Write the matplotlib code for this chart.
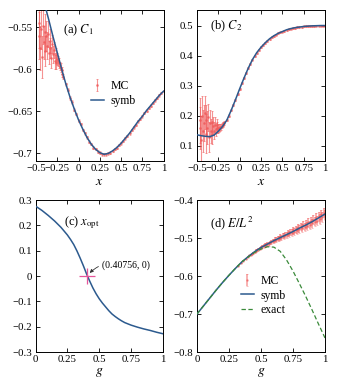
import matplotlib
matplotlib.use("Agg")
import matplotlib.pyplot as plt

plt.rcParams['font.family'] = ['Liberation Serif', 'DejaVu Serif']
plt.rcParams['mathtext.fontset'] = 'stix'
plt.rcParams['axes.unicode_minus'] = True

# ---------------- data ----------------
# (a)/(b) symbolic curves
x_sym = [-0.50, -0.45, -0.40, -0.35, -0.30, -0.25, -0.20, -0.15, -0.10, -0.05, 0.00,
         0.05, 0.10, 0.15, 0.20, 0.25, 0.30, 0.35, 0.40, 0.45, 0.50, 0.55, 0.60,
         0.65, 0.70, 0.75, 0.80, 0.85, 0.90, 0.95, 1.00]
c1_sym = [-0.482, -0.502, -0.522, -0.541, -0.561, -0.580, -0.599, -0.617, -0.633, -0.647, -0.660,
          -0.671, -0.681, -0.689, -0.695, -0.699, -0.701, -0.700, -0.697, -0.693, -0.688, -0.682, -0.676,
          -0.669, -0.662, -0.656, -0.649, -0.643, -0.637, -0.631, -0.626]
c2_sym = [0.137, 0.134, 0.132, 0.131, 0.136, 0.149, 0.165, 0.186, 0.218, 0.253, 0.290,
          0.325, 0.358, 0.387, 0.410, 0.428, 0.443, 0.456, 0.466, 0.474, 0.480, 0.486, 0.490,
          0.493, 0.495, 0.497, 0.498, 0.499, 0.4995, 0.500, 0.500]

# MC, noisy part (x < -0.17)
x_mc_noisy = [-0.47, -0.46, -0.45, -0.44, -0.43, -0.42, -0.41, -0.40, -0.39, -0.38,
              -0.37, -0.36, -0.35, -0.34, -0.33, -0.32, -0.31, -0.30, -0.29, -0.28,
              -0.27, -0.26, -0.25, -0.24, -0.23, -0.22, -0.21, -0.20, -0.19, -0.18]
c1_mc_noisy = [-0.560, -0.545, -0.575, -0.552, -0.585, -0.548, -0.568, -0.556, -0.578, -0.560,
               -0.572, -0.558, -0.580, -0.566, -0.575, -0.586, -0.570, -0.582, -0.577, -0.590,
               -0.583, -0.592, -0.588, -0.590, -0.592, -0.596, -0.598, -0.601, -0.605, -0.609]
c1_err_noisy = [0.028, 0.030, 0.026, 0.024, 0.025, 0.022, 0.020, 0.022, 0.018, 0.018,
                0.016, 0.015, 0.014, 0.014, 0.012, 0.012, 0.011, 0.010, 0.009, 0.009,
                0.008, 0.007, 0.007, 0.006, 0.006, 0.005, 0.005, 0.004, 0.004, 0.003]
c2_mc_noisy = [0.160, 0.185, 0.120, 0.200, 0.150, 0.175, 0.210, 0.140, 0.185, 0.160,
               0.195, 0.130, 0.175, 0.150, 0.180, 0.140, 0.165, 0.150, 0.170, 0.155,
               0.168, 0.160, 0.158, 0.160, 0.162, 0.164, 0.167, 0.170, 0.172, 0.176]
c2_err_noisy = [0.070, 0.075, 0.080, 0.065, 0.070, 0.060, 0.055, 0.065, 0.050, 0.055,
                0.045, 0.050, 0.045, 0.040, 0.035, 0.035, 0.030, 0.028, 0.025, 0.022,
                0.020, 0.018, 0.016, 0.014, 0.012, 0.010, 0.009, 0.008, 0.007, 0.006]

# MC, clean part
x_mc_clean = [-0.150, -0.125, -0.100, -0.075, -0.050, -0.025, 0.000, 0.025, 0.050, 0.075,
              0.100, 0.125, 0.150, 0.175, 0.200, 0.225, 0.250, 0.275, 0.300, 0.325,
              0.350, 0.375, 0.400, 0.425, 0.450, 0.475, 0.500, 0.525, 0.550, 0.575,
              0.600, 0.625, 0.650, 0.675, 0.700, 0.725, 0.750, 0.775, 0.800, 0.825,
              0.850, 0.875, 0.900, 0.925, 0.950, 0.975, 1.000]
c1_mc_clean = [-0.618, -0.624, -0.634, -0.639, -0.648, -0.653, -0.661, -0.665, -0.672, -0.676,
               -0.681, -0.686, -0.689, -0.693, -0.695, -0.698, -0.699, -0.701, -0.701, -0.701,
               -0.700, -0.699, -0.697, -0.695, -0.693, -0.690, -0.688, -0.685, -0.682, -0.679,
               -0.676, -0.672, -0.669, -0.666, -0.662, -0.659, -0.656, -0.652, -0.649, -0.646,
               -0.643, -0.640, -0.637, -0.634, -0.631, -0.628, -0.626]
c2_mc_clean = [0.187, 0.201, 0.218, 0.235, 0.253, 0.272, 0.290, 0.308, 0.325, 0.342,
               0.358, 0.373, 0.387, 0.399, 0.410, 0.420, 0.428, 0.436, 0.443, 0.450,
               0.456, 0.461, 0.466, 0.470, 0.474, 0.477, 0.480, 0.483, 0.486, 0.488,
               0.490, 0.492, 0.493, 0.494, 0.495, 0.496, 0.497, 0.498, 0.498, 0.499,
               0.499, 0.499, 0.500, 0.500, 0.500, 0.500, 0.500]
c1_err_clean = [0.002, 0.002, 0.002, 0.002, 0.0015, 0.0015, 0.0015, 0.0015, 0.0015, 0.0015,
                0.0015, 0.0015, 0.0015, 0.0015, 0.0015, 0.0015, 0.0015, 0.0015, 0.0015, 0.0015,
                0.0015, 0.0015, 0.0015, 0.0015, 0.0015, 0.0015, 0.0015, 0.0015, 0.0015, 0.0015,
                0.0015, 0.0015, 0.0015, 0.0015, 0.0015, 0.0015, 0.0015, 0.0015, 0.0015, 0.0015,
                0.0015, 0.0015, 0.0015, 0.0015, 0.0015, 0.0015, 0.0015]
c2_err_clean = [0.004, 0.004, 0.003, 0.003, 0.003, 0.003, 0.003, 0.003, 0.003, 0.003,
                0.003, 0.003, 0.003, 0.003, 0.003, 0.003, 0.003, 0.003, 0.003, 0.003,
                0.003, 0.003, 0.003, 0.003, 0.003, 0.003, 0.003, 0.003, 0.003, 0.003,
                0.003, 0.003, 0.003, 0.003, 0.003, 0.003, 0.003, 0.003, 0.003, 0.003,
                0.003, 0.003, 0.003, 0.003, 0.003, 0.003, 0.003]

# (c) x_opt(g)
g_opt = [0.00, 0.05, 0.10, 0.15, 0.20, 0.25, 0.275, 0.30, 0.325, 0.35, 0.375, 0.40,
         0.425, 0.45, 0.475, 0.50, 0.525, 0.55, 0.575, 0.60, 0.625, 0.65, 0.675, 0.70,
         0.75, 0.80, 0.85, 0.90, 0.95, 1.00]
x_opt = [0.276, 0.259, 0.239, 0.217, 0.192, 0.162, 0.144, 0.124, 0.099, 0.071, 0.041, 0.009,
         -0.020, -0.047, -0.070, -0.090, -0.107, -0.122, -0.137, -0.150, -0.160, -0.169, -0.177, -0.184,
         -0.194, -0.202, -0.209, -0.215, -0.222, -0.228]
g_star = 0.40756
x_star = 0.0

# (d) E/L^2
g_e = [0.00, 0.05, 0.10, 0.15, 0.20, 0.25, 0.30, 0.35, 0.40, 0.45, 0.50,
       0.55, 0.60, 0.65, 0.70, 0.75, 0.80, 0.85, 0.90, 0.95, 1.00]
e_sym = [-0.700, -0.679, -0.658, -0.637, -0.617, -0.598, -0.580, -0.563, -0.549, -0.536, -0.525,
         -0.516, -0.507, -0.499, -0.491, -0.483, -0.474, -0.466, -0.457, -0.447, -0.437]
e_exact = [-0.700, -0.679, -0.658, -0.637, -0.617, -0.598, -0.580, -0.563, -0.550, -0.538, -0.529,
           -0.523, -0.524, -0.535, -0.558, -0.587, -0.620, -0.654, -0.690, -0.727, -0.763]
g_mc = [0.32, 0.34, 0.36, 0.38, 0.40,
        0.41, 0.42, 0.43, 0.44, 0.45, 0.46, 0.47, 0.48, 0.49, 0.50,
        0.51, 0.52, 0.53, 0.54, 0.55, 0.56, 0.57, 0.58, 0.59, 0.60,
        0.61, 0.62, 0.63, 0.64, 0.65, 0.66, 0.67, 0.68, 0.69, 0.70,
        0.71, 0.72, 0.73, 0.74, 0.75, 0.76, 0.77, 0.78, 0.79, 0.80,
        0.81, 0.82, 0.83, 0.84, 0.85, 0.86, 0.87, 0.88, 0.89, 0.90,
        0.91, 0.92, 0.93, 0.94, 0.95, 0.96, 0.97, 0.98, 0.99, 1.00]
e_mc = [-0.573, -0.566, -0.560, -0.554, -0.549,
        -0.546, -0.544, -0.541, -0.539, -0.536, -0.533, -0.532, -0.529, -0.527, -0.526,
        -0.522, -0.521, -0.519, -0.519, -0.515, -0.515, -0.512, -0.511, -0.508, -0.508,
        -0.504, -0.504, -0.501, -0.502, -0.497, -0.499, -0.494, -0.495, -0.491, -0.492,
        -0.487, -0.489, -0.484, -0.486, -0.480, -0.483, -0.477, -0.480, -0.473, -0.477,
        -0.470, -0.474, -0.466, -0.471, -0.463, -0.468, -0.459, -0.465, -0.455, -0.461,
        -0.452, -0.457, -0.447, -0.454, -0.443, -0.449, -0.438, -0.445, -0.433, -0.440]
e_mc_err = [0.001, 0.001, 0.001, 0.001, 0.002,
            0.002, 0.002, 0.002, 0.003, 0.003, 0.003, 0.003, 0.004, 0.004, 0.004,
            0.004, 0.004, 0.005, 0.005, 0.005, 0.005, 0.005, 0.006, 0.006, 0.006,
            0.006, 0.006, 0.007, 0.007, 0.007, 0.007, 0.007, 0.008, 0.008, 0.008,
            0.008, 0.008, 0.009, 0.009, 0.009, 0.009, 0.009, 0.010, 0.010, 0.010,
            0.010, 0.010, 0.010, 0.011, 0.011, 0.011, 0.011, 0.011, 0.011, 0.012,
            0.012, 0.012, 0.012, 0.012, 0.012, 0.013, 0.013, 0.013, 0.013, 0.013]

# ticks
xt_top = [-0.5, -0.25, 0, 0.25, 0.5, 0.75, 1]
xt_top_lbl = ['\u22120.5', '\u22120.25', '0', '0.25', '0.5', '0.75', '1']
xt_bot = [0, 0.25, 0.5, 0.75, 1]
xt_bot_lbl = ['0', '0.25', '0.5', '0.75', '1']
yt_a = [-0.55, -0.6, -0.65, -0.7]
yt_a_lbl = ['\u22120.55', '\u22120.6', '\u22120.65', '\u22120.7']
yt_b = [0.1, 0.2, 0.3, 0.4, 0.5]
yt_b_lbl = ['0.1', '0.2', '0.3', '0.4', '0.5']
yt_c = [-0.3, -0.2, -0.1, 0, 0.1, 0.2, 0.3]
yt_c_lbl = ['\u22120.3', '\u22120.2', '\u22120.1', '0', '0.1', '0.2', '0.3']
yt_d = [-0.8, -0.7, -0.6, -0.5, -0.4]
yt_d_lbl = ['\u22120.8', '\u22120.7', '\u22120.6', '\u22120.5', '\u22120.4']

# ---------------- style ----------------
BLUE = '#2c5a8e'
RED = '#f05a5a'
GREEN = '#3a8a3a'
PINK = '#e6559a'
TICK_FS = 7.8
LAB_FS = 10
TIT_FS = 9
LEG_FS = 8.5

W, H = 338, 388
fig = plt.figure(figsize=(W / 100, H / 100), dpi=100)


def ax_at(l, r, t, b):
    return fig.add_axes([l / W, (H - b) / H, (r - l) / W, (b - t) / H])


axa = ax_at(36, 163.5, 10.5, 161)
axb = ax_at(197, 325, 10.5, 161)
axc = ax_at(35.5, 163, 200, 352)
axd = ax_at(197, 325, 200, 352)

for ax in (axa, axb, axc, axd):
    ax.tick_params(direction='in', top=True, right=True, length=3, width=0.6,
                   labelsize=TICK_FS, pad=2.5)
    for s in ax.spines.values():
        s.set_linewidth(0.7)

eb_kw = dict(fmt='o', ms=1.0, color=RED, ecolor=RED, elinewidth=0.8,
             capsize=0.8, capthick=0.6, alpha=0.65, zorder=2)
eb_clean = dict(fmt='o', ms=1.2, color=RED, ecolor=RED, elinewidth=0.8,
                capsize=0.6, capthick=0.5, alpha=0.5, zorder=2)
eb_band = dict(fmt='o', ms=0.8, color=RED, ecolor=RED, elinewidth=1.2,
               capsize=0.6, capthick=0.5, alpha=0.55, zorder=2)


def legend(ax, order, anchor, spacing):
    h, l = ax.get_legend_handles_labels()
    d = dict(zip(l, h))
    ax.legend([d[k] for k in order], order, loc='upper left', bbox_to_anchor=anchor,
              frameon=False, fontsize=LEG_FS, handlelength=1.1, handletextpad=0.6,
              labelspacing=spacing, borderpad=0, borderaxespad=0)


# (a)
axa.errorbar(x_mc_noisy, c1_mc_noisy, yerr=c1_err_noisy, **eb_kw, label='MC')
axa.errorbar(x_mc_clean, c1_mc_clean, yerr=c1_err_clean, **eb_clean)
axa.plot(x_sym, c1_sym, color=BLUE, lw=1.1, zorder=3, label='symb')
axa.set_xlim(-0.5, 1)
axa.set_ylim(-0.709, -0.53)
axa.set_xticks(xt_top, xt_top_lbl)
axa.set_yticks(yt_a, yt_a_lbl)
axa.set_xlabel('$x$', fontsize=LAB_FS, labelpad=1)
axa.text(0.21, 0.87, '(a) $C_1$', transform=axa.transAxes, fontsize=TIT_FS,
         ha='left', va='center')
legend(axa, ['MC', 'symb'], (0.43, 0.54), 0.25)

# (b)
axb.errorbar(x_mc_noisy, c2_mc_noisy, yerr=c2_err_noisy, **eb_kw)
axb.errorbar(x_mc_clean, c2_mc_clean, yerr=c2_err_clean, **eb_clean)
axb.plot(x_sym, c2_sym, color=BLUE, lw=1.1, zorder=3)
axb.set_xlim(-0.5, 1)
axb.set_ylim(0.05, 0.55)
axb.set_xticks(xt_top, xt_top_lbl)
axb.set_yticks(yt_b, yt_b_lbl)
axb.set_xlabel('$x$', fontsize=LAB_FS, labelpad=1)
axb.text(0.10, 0.895, '(b) $C_2$', transform=axb.transAxes, fontsize=TIT_FS,
         ha='left', va='center')

# (c)
axc.plot(g_opt, x_opt, color=BLUE, lw=1.1, zorder=3)
axc.plot([g_star], [x_star], marker='+', ms=12, mew=0.9, color=PINK, zorder=4)
axc.annotate('(0.40756, 0)', xy=(0.425, 0.012), xytext=(0.525, 0.044),
             fontsize=7, ha='left', va='center',
             arrowprops=dict(arrowstyle='-|>', color='#333333', lw=0.6,
                             mutation_scale=5, shrinkA=1, shrinkB=0,
                             connectionstyle='arc3,rad=0.3'))
axc.set_xlim(0, 1)
axc.set_ylim(-0.3, 0.3)
axc.set_xticks(xt_bot, xt_bot_lbl)
axc.set_yticks(yt_c, yt_c_lbl)
axc.set_xlabel('$g$', fontsize=LAB_FS, labelpad=1)
axc.text(0.22, 0.85, '(c) $x_{\\mathrm{opt}}$', transform=axc.transAxes, fontsize=TIT_FS,
         ha='left', va='center')

# (d)
axd.errorbar(g_mc, e_mc, yerr=e_mc_err, **eb_band, label='MC')
axd.plot(g_e, e_sym, color=BLUE, lw=1.1, zorder=3, label='symb')
axd.plot(g_e, e_exact, color=GREEN, lw=0.9, ls=(0, (3.5, 2)), zorder=3, label='exact')
axd.set_xlim(0, 1)
axd.set_ylim(-0.8, -0.4)
axd.set_xticks(xt_bot, xt_bot_lbl)
axd.set_yticks(yt_d, yt_d_lbl)
axd.set_xlabel('$g$', fontsize=LAB_FS, labelpad=1)
axd.text(0.10, 0.85, '(d) $E/L^2$', transform=axd.transAxes, fontsize=TIT_FS,
         ha='left', va='center')
legend(axd, ['MC', 'symb', 'exact'], (0.34, 0.505), 0.2)

fig.savefig('out.png', dpi=100)
